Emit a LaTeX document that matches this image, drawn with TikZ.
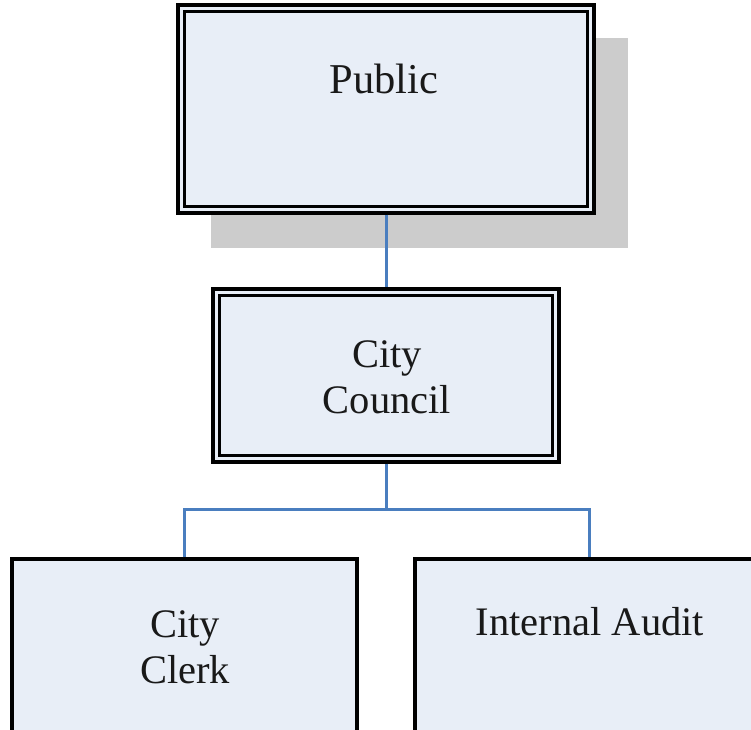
\documentclass[tikz,border=0pt]{standalone}
\usepackage{fontspec}
\setmainfont{Liberation Serif}
\definecolor{boxfill}{HTML}{E8EEF7}
\definecolor{conncol}{HTML}{4A7EBF}
\definecolor{shadowcol}{HTML}{CCCCCC}
\begin{document}
\begin{tikzpicture}[x=1pt,y=-1pt,
  outerbox/.style={draw=black, fill=boxfill, line width=3.2pt, inner sep=0pt, rectangle},
  innerline/.style={draw=black, line width=3.2pt},
  conn/.style={draw=conncol, line width=3pt},
  lbl/.style={font=\fontsize{40.5}{46}\selectfont, align=center, inner sep=0pt, text=black!90}]
\useasboundingbox (0,0) rectangle (751,729);
\clip (0,0) rectangle (751,729);
% shadow
\fill[shadowcol] (211,38) rectangle (628,248);
% Public
\node[outerbox, minimum width=416pt, minimum height=208pt] (public) at (386,109) {};
\draw[innerline] ([shift={(8,8)}]public.north west) rectangle ([shift={(-8,-8)}]public.south east);
\node[lbl, font=\fontsize{42.5}{46}\selectfont, anchor=base] (publictext) at (384,93) {Public};
% City Council
\node[outerbox, minimum width=346pt, minimum height=173pt] (council) at (386,375.5) {};
\draw[innerline] ([shift={(8,8)}]council.north west) rectangle ([shift={(-8,-8)}]council.south east);
\node[lbl, anchor=base] (counciltext) at (387,413) {City\\Council};
% bottom boxes
\node[outerbox, minimum width=345pt, minimum height=210pt] (clerk) at (184.5,664) {};
\node[lbl, anchor=base] (clerktext) at (185,683) {City\\Clerk};
\node[outerbox, minimum width=348pt, minimum height=210pt] (audit) at (589,664) {};
\node[lbl, anchor=base] (audittext) at (590,635) {Internal Audit};
% connectors
\coordinate (bus) at (386,509);
\draw[conn] (public.south) -- (council.north);
\draw[conn] (council.south) -- (bus);
\draw[conn] (clerk.north) -- (clerk.north |- bus) -- (audit.north |- bus) -- (audit.north);
\end{tikzpicture}
\end{document}
